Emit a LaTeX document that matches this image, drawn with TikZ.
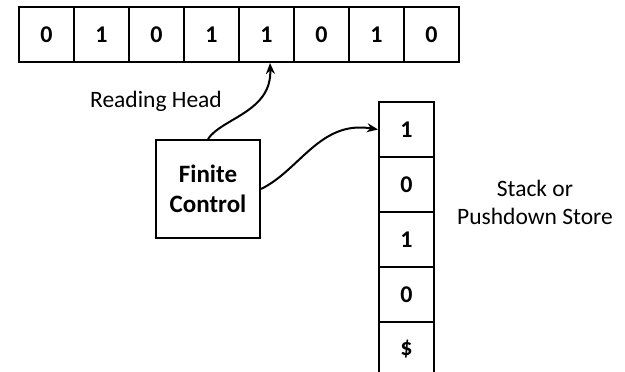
\documentclass[tikz,border=0pt]{standalone}
\usepackage{fontspec}
\setmainfont{Carlito}
\usetikzlibrary{arrows.meta}
\begin{document}
\begin{tikzpicture}[x=1pt,y=-1pt,
  cell/.style={draw,line width=2pt,minimum width=55pt,minimum height=55pt,inner sep=0pt,font=\fontsize{24}{29}\selectfont\bfseries},
  ctrl/.style={draw,line width=2pt,minimum width=104pt,minimum height=98pt,align=center,font=\fontsize{25}{30}\selectfont\bfseries},
  lbl/.style={font=\fontsize{23.5}{28}\selectfont,align=center},
  link/.style={line width=2pt,-{Stealth[length=11pt,width=9pt]}}]
\useasboundingbox (0,0) rectangle (625,372);
\clip (0,0) rectangle (625,372);
% input tape
\foreach \v [count=\i] in {0,1,0,1,1,0,1,0}
  \node[cell] (t\i) at ({46.5+55*(\i-1)},34.5) {\v};
% pushdown stack
\foreach \v [count=\i] in {1,0,1,0,\$}
  \node[cell] (s\i) at (406.5,{129.5+55*(\i-1)}) {\v};
% finite control
\node[ctrl] (fc) at (208,189) {Finite\\Control};
% labels
\node[lbl] (rh) at (156,101) {Reading Head};
\node[lbl] (st) at (535,202) {Stack or\\Pushdown Store};
% connectors
\draw[link] (fc.north) .. controls (222,118) and (272,112) .. ([xshift=3.5pt]t5.south);
\draw[link] (fc.east) .. controls (300,170) and (320,120) .. (s1.west);
\end{tikzpicture}
\end{document}
